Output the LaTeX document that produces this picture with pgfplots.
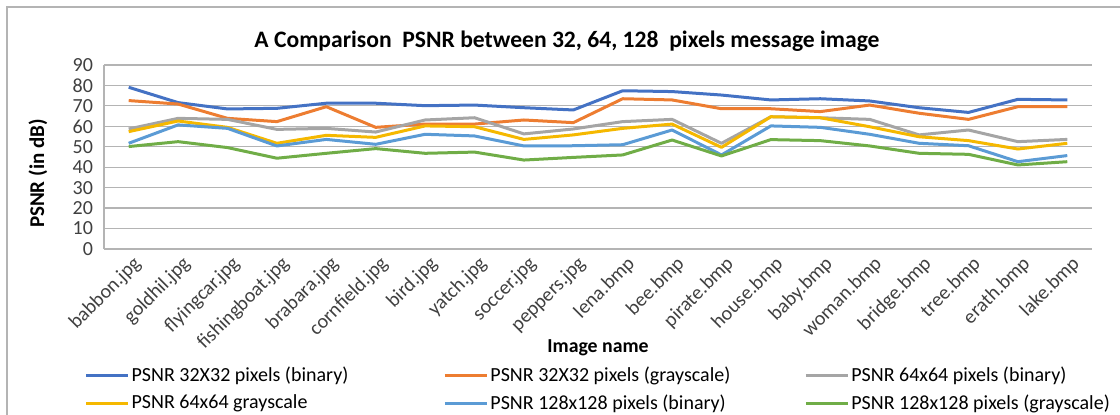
\documentclass[border=0pt]{standalone}
\usepackage{pgfplots}
\pgfplotsset{compat=1.18}
\usepackage{fontspec}
\setmainfont{Carlito}
\definecolor{c1}{HTML}{4472C4}
\definecolor{c2}{HTML}{ED7D31}
\definecolor{c3}{HTML}{A5A5A5}
\definecolor{c4}{HTML}{F5B800}
\definecolor{c5}{HTML}{5B9BD5}
\definecolor{c6}{HTML}{70AD47}
\definecolor{gridc}{HTML}{B4B4B4}
\begin{document}
\begin{tikzpicture}
\useasboundingbox (0,0) rectangle (560pt,207.5pt);
\draw[gridc,line width=0.6pt] (3.5pt,0pt) -- (3.5pt,204pt) -- (560pt,204pt);
\node[anchor=base,font=\fontsize{11.8}{13}\selectfont\bfseries] at (283.5pt,183.5pt) {A Comparison\ \ PSNR between 32, 64, 128\ \ pixels message image};
\begin{axis}[
  at={(52pt,83pt)}, anchor=south west,
  scale only axis, width=494pt, height=92pt,
  xmin=-0.5, xmax=19.5, ymin=0, ymax=90,
  ytick={0,10,...,90},
  xtick={0,...,19},
  xticklabels={babbon.jpg,goldhil.jpg,flyingcar.jpg,fishingboat.jpg,brabara.jpg,cornfield.jpg,bird.jpg,yatch.jpg,soccer.jpg,peppers.jpg,lena.bmp,bee.bmp,pirate.bmp,house.bmp,baby.bmp,woman.bmp,bridge.bmp,tree.bmp,erath.bmp,lake.bmp},
  axis x line*=bottom, axis y line*=left,
  axis line style={gridc, line width=0.6pt, -},
  major tick length=0pt,
  ymajorgrids, grid style={gridc, line width=0.6pt},
  tick label style={font=\fontsize{10}{12}\selectfont, text=black!75},
  /pgf/number format/assume math mode=true,
  xticklabel style={rotate=45, anchor=east, xshift=2.5pt, yshift=-7.5pt},
  yticklabel style={xshift=-2pt},
  xlabel={Image name},
  xlabel style={font=\fontsize{9.9}{11}\selectfont\bfseries, at={(axis description cs:0.5,-0.537)}, anchor=center},
  ylabel={PSNR (in dB)},
  ylabel style={font=\fontsize{10.5}{12}\selectfont\bfseries, at={(axis description cs:-0.0668,0.41)}, anchor=center},
  legend columns=3,
  legend cell align=left,
  legend style={draw=none, at={(axis description cs:-0.020,-0.625)}, anchor=north west,
    font=\fontsize{10}{12}\selectfont, inner sep=0pt, row sep=3.2pt,
    /tikz/column 2/.style={column sep=46.5pt},
    /tikz/column 4/.style={column sep=36pt},
    nodes={inner xsep=1pt, inner ysep=1pt}},
  legend image code/.code={\draw[#1] (0pt,0pt) -- (21pt,0pt);},
  every axis plot/.append style={line width=1.5pt, line join=round},
]
\addplot[c1] coordinates {(0,79.1)(1,71.6)(2,68.5)(3,68.8)(4,71.3)(5,71.3)(6,70.1)(7,70.4)(8,69.1)(9,68.0)(10,77.4)(11,77.0)(12,75.3)(13,72.9)(14,73.5)(15,72.4)(16,69.1)(17,66.8)(18,73.2)(19,72.9)};
\addlegendentry{PSNR 32X32 pixels (binary)}
\addplot[c2] coordinates {(0,72.6)(1,70.9)(2,63.9)(3,62.3)(4,69.6)(5,59.5)(6,61.1)(7,61.1)(8,63.1)(9,61.8)(10,73.5)(11,72.9)(12,68.6)(13,68.6)(14,67.2)(15,70.4)(16,66.4)(17,63.4)(18,69.6)(19,69.6)};
\addlegendentry{PSNR 32X32 pixels (grayscale)}
\addplot[c3] coordinates {(0,58.7)(1,63.9)(2,63.4)(3,58.5)(4,59.0)(5,57.2)(6,63.1)(7,64.2)(8,56.3)(9,58.7)(10,62.3)(11,63.4)(12,51.7)(13,64.7)(14,64.2)(15,63.4)(16,55.8)(17,58.2)(18,52.5)(19,53.6)};
\addlegendentry{PSNR 64x64 pixels (binary)}
\addplot[c4] coordinates {(0,57.4)(1,62.6)(2,59.5)(3,51.7)(4,55.6)(5,54.6)(6,60.2)(7,59.8)(8,53.6)(9,55.8)(10,59.0)(11,61.1)(12,49.7)(13,64.7)(14,64.2)(15,59.8)(16,54.9)(17,53.0)(18,48.9)(19,51.7)};
\addlegendentry{PSNR 64x64 grayscale}
\addplot[c5] coordinates {(0,51.7)(1,60.7)(2,59.0)(3,50.4)(4,53.6)(5,51.2)(6,56.1)(7,55.3)(8,50.4)(9,50.5)(10,51.0)(11,58.2)(12,46.0)(13,60.2)(14,59.5)(15,56.1)(16,51.7)(17,50.5)(18,42.7)(19,45.7)};
\addlegendentry{PSNR 128x128 pixels (binary)}
\addplot[c6] coordinates {(0,50.1)(1,52.5)(2,49.6)(3,44.4)(4,46.8)(5,49.1)(6,46.8)(7,47.4)(8,43.5)(9,44.8)(10,46.0)(11,53.3)(12,45.5)(13,53.5)(14,53.0)(15,50.4)(16,46.8)(17,46.3)(18,41.1)(19,42.7)};
\addlegendentry{PSNR 128x128 pixels (grayscale)}
\end{axis}
\end{tikzpicture}
\end{document}
